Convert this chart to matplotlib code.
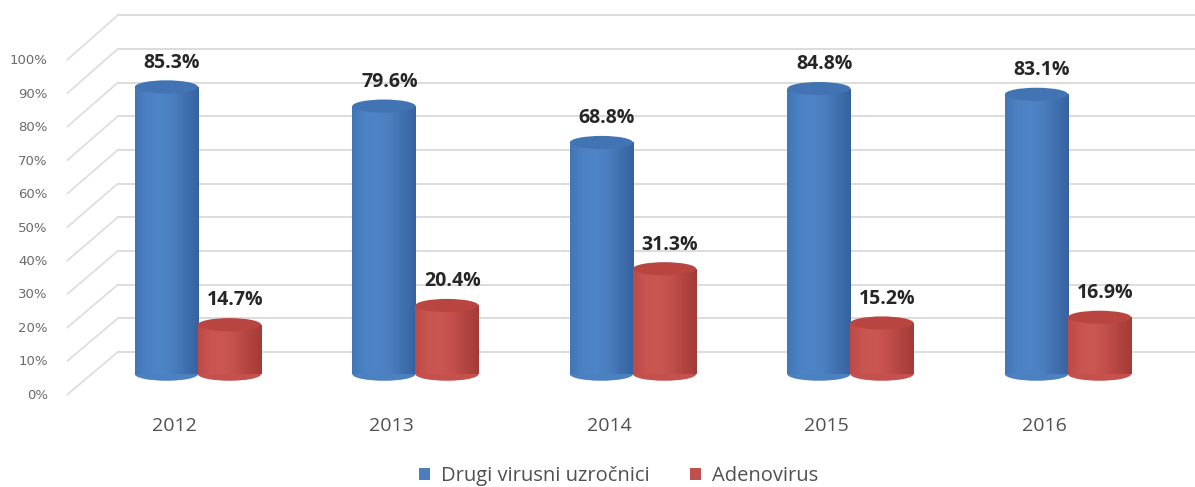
import numpy as np
import matplotlib.pyplot as plt
from matplotlib.patches import Ellipse
from matplotlib.colors import LinearSegmentedColormap

years = ['2012', '2013', '2014', '2015', '2016']
drugi = [85.3, 79.6, 68.8, 84.8, 83.1]
adeno = [14.7, 20.4, 31.3, 15.2, 16.9]
series_names = ['Drugi virusni uzročnici', 'Adenovirus']
ticks = [0, 10, 20, 30, 40, 50, 60, 70, 80, 90, 100]

blue_map = LinearSegmentedColormap.from_list(
    'cyl_blue', ['#4275b5', '#4c82c3', '#4e85c6', '#4a7ebf', '#416fae', '#3762a0'])
red_map = LinearSegmentedColormap.from_list(
    'cyl_red', ['#bd4a47', '#c9554f', '#ca5752', '#c24f4b', '#b24440', '#a33b38'])

fig = plt.figure(figsize=(11.95, 4.87), dpi=100)
ax = fig.add_axes([0, 0, 1, 1])
ax.set_xlim(-0.91, 4.584)
ax.set_ylim(-33.5, 111.1)
ax.axis('off')

grid_col = '#dcdcdc'
wall_off = 6.6      # back wall is shifted up (perspective)
x_wall = -0.368
x_diag = -0.60
for t in ticks:
    yw = t + wall_off
    yl = t * 0.994 - 6.3
    ax.plot([x_wall, 4.6], [yw, yw], color=grid_col, lw=1.4, zorder=1)
    ax.plot([x_diag, x_wall], [yl + 0.3, yw], color=grid_col, lw=1.2, zorder=1)
    ax.text(-0.69, yl, f'{t}%', ha='right', va='center', fontsize=9.5,
            color='#6a6a6a', family='DejaVu Sans')

x = np.arange(len(years))
w = 0.29
ell_h = 3.9

def draw_cylinders(xs, vals, cmap, top_col, label, color):
    bars = ax.bar(xs, vals, width=w, color=color, label=label, zorder=3)
    grad = np.linspace(0, 1, 128).reshape(1, -1)
    for b, v in zip(bars, vals):
        x0 = b.get_x()
        # rounded base
        ax.add_patch(Ellipse((x0 + w / 2, 0), w, ell_h, facecolor=cmap(0.55),
                             edgecolor='none', zorder=2.9))
        im = ax.imshow(grad, extent=[x0, x0 + w, 0, v], cmap=cmap,
                       aspect='auto', zorder=3.1, interpolation='bilinear')
        im.set_clip_path(b)
        ax.add_patch(Ellipse((x0 + w / 2, v), w, ell_h, facecolor=top_col,
                             edgecolor='none', zorder=3.3))
        ax.text(x0 + w / 2 + 0.025, v + 7.2, f'{v}%', ha='center', va='center',
                fontsize=14, fontweight='bold', color='#262626',
                family='Open Sans', zorder=5)
    return bars

draw_cylinders(x - w / 2, drugi, blue_map, '#4273b3', series_names[0], '#4a7ebe')
draw_cylinders(x + w / 2, adeno, red_map, '#b94541', series_names[1], '#c0504d')

for i, yr in enumerate(years):
    ax.text(x[i] - 0.11, -15.3, yr, ha='center', va='center', fontsize=14,
            color='#505050', family='Open Sans')

ax.legend(loc='lower center', bbox_to_anchor=(0.518, -0.036), ncol=2,
          frameon=False, handlelength=0.55, handleheight=0.55,
          handletextpad=0.55, columnspacing=2.0, labelcolor='#505050',
          prop={'family': 'Open Sans', 'size': 14.5})

fig.savefig('out.png', dpi=100)
